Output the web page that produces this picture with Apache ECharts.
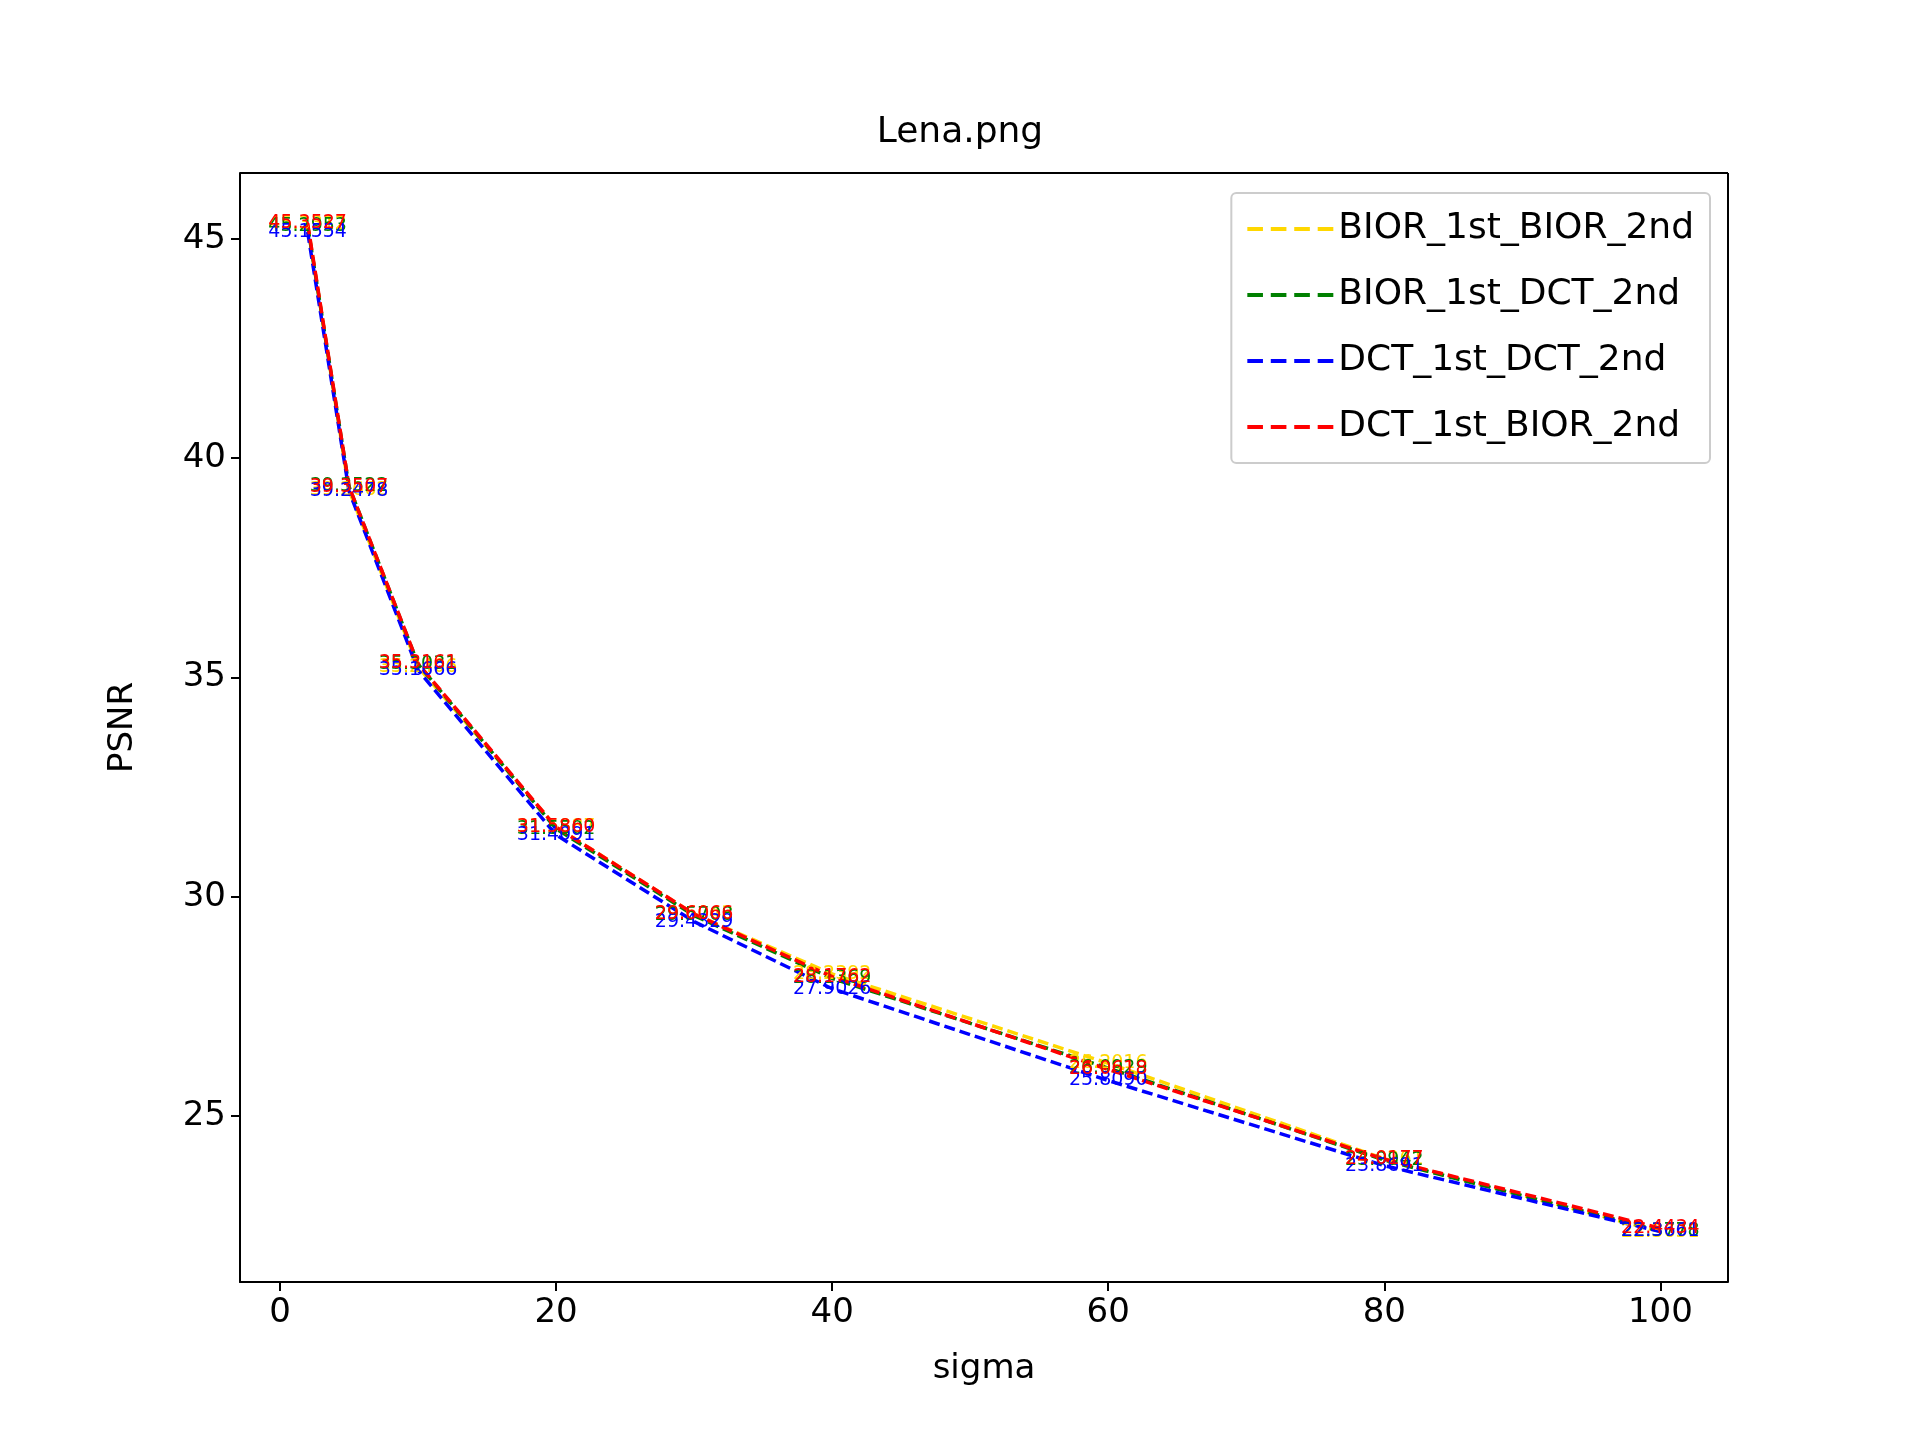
<!DOCTYPE html>
<html><head><meta charset="utf-8">
<script src="https://cdn.jsdelivr.net/npm/echarts@6/dist/echarts.min.js"></script>
<style>html,body{margin:0;background:#fff}#c{width:1920px;height:1440px}</style>
</head><body><div id="c"></div>
<script>
var sigma = [2, 5, 10, 20, 30, 40, 60, 80, 100];
var bior_bior = [45.3312, 39.2662, 35.2406, 31.5887, 29.6043, 28.2392, 26.2016, 24.0261, 22.3651];
var bior_dct = [45.2953, 39.3522, 35.3031, 31.5502, 29.5708, 28.1369, 26.0929, 23.9942, 22.3778];
var dct_dct = [45.1554, 39.2478, 35.1666, 31.4091, 29.4329, 27.9026, 25.8090, 23.8691, 22.3661];
var dct_bior = [45.3527, 39.3507, 35.3161, 31.5860, 29.6066, 28.1762, 26.0618, 24.0177, 22.4434];
var xTicks = [0, 20, 40, 60, 80, 100];
var yTicks = [25, 30, 35, 40, 45];
var names = ['BIOR_1st_BIOR_2nd', 'BIOR_1st_DCT_2nd', 'DCT_1st_DCT_2nd', 'DCT_1st_BIOR_2nd'];
var colors = ['#FFD700', '#008000', '#0000FF', '#FF0000'];
var allData = [bior_bior, bior_dct, dct_dct, dct_bior];
// label offsets in pixels, like the staggered annotations
var offs = [[0, -12], [34, -42], [67, -70], [101, -99]];

var font = 'DejaVu Sans';
var series = allData.map(function (vals, k) {
    return {
        name: names[k], type: 'line', showSymbol: true, symbol: 'circle', symbolSize: 0,
        data: sigma.map(function (s, i) { return [s, vals[i]]; }),
        lineStyle: {color: colors[k], width: 3.5, type: [11, 5]},
        itemStyle: {color: colors[k]},
        label: {show: true, position: 'inside', offset: offs[k], color: colors[k],
            fontFamily: font, fontSize: 19,
            formatter: function (p) { return p.value[1].toFixed(4); }},
        labelLayout: {hideOverlap: false},
        emphasis: {disabled: true}
    };
});
var chart = echarts.init(document.getElementById('c'));
chart.setOption({
    animation: false,
    title: {text: 'Lena.png', left: 'center', top: 110, textStyle: {fontFamily: font, fontSize: 36, fontWeight: 'normal', color: '#000'}},
    grid: {left: 240, right: 192, top: 173, bottom: 158},
    legend: {
        right: 210, top: 193, orient: 'vertical', itemWidth: 86, itemHeight: 4, itemGap: 30,
        padding: [18, 16, 18, 16], borderColor: '#ccc', borderWidth: 2, borderRadius: 5,
        textStyle: {fontFamily: font, fontSize: 36, color: '#000'},
        data: names.map(function (n, k) {
            return {name: n, icon: 'path://M0,0h4v1h-4z M6,0h4v1h-4z M12,0h4v1h-4z M18,0h4v1h-4z', itemStyle: {color: colors[k]}};
        })
    },
    xAxis: {type: 'value', min: -2.9, max: 104.9, name: 'sigma', nameLocation: 'middle', nameGap: 70,
        nameTextStyle: {fontFamily: font, fontSize: 34, color: '#000'},
        splitLine: {show: false}, axisLine: {onZero: false, lineStyle: {color: '#000', width: 2}},
        axisTick: {show: true, length: 9, customValues: xTicks, lineStyle: {color: '#000', width: 2}},
        axisLabel: {fontFamily: font, fontSize: 34, color: '#000', margin: 14, customValues: xTicks}},
    yAxis: {type: 'value', min: 21.216, max: 46.5, name: 'PSNR', nameLocation: 'middle', nameGap: 100,
        nameTextStyle: {fontFamily: font, fontSize: 34, color: '#000'},
        splitLine: {show: false}, axisLine: {show: true, onZero: false, lineStyle: {color: '#000', width: 2}},
        axisTick: {show: true, length: 9, customValues: yTicks, lineStyle: {color: '#000', width: 2}},
        axisLabel: {fontFamily: font, fontSize: 34, color: '#000', margin: 14, customValues: yTicks}},
    series: series.concat([{type: 'line', data: [], markLine: {silent: true, symbol: 'none', label: {show: false},
        lineStyle: {color: '#000', width: 2, type: 'solid'}, data: [{xAxis: 104.9}, {yAxis: 46.5}]}}])
});
</script></body></html>
